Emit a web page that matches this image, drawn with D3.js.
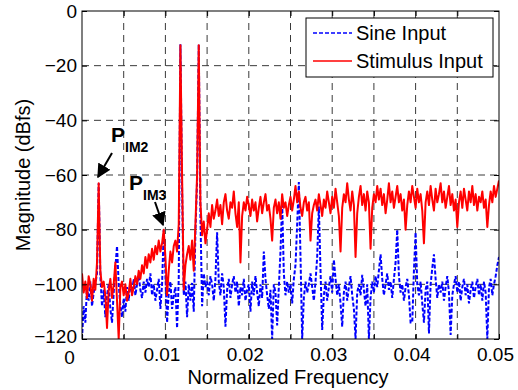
<!DOCTYPE html>
<html>
<head>
<meta charset="utf-8">
<script src="https://cdn.jsdelivr.net/npm/d3@7/dist/d3.min.js"></script>
<style>
  html, body { margin: 0; padding: 0; background: #fff; }
  svg { display: block; font-family: "Liberation Sans", Arial, sans-serif; }
</style>
</head>
<body>
<svg id="chart" width="518" height="390"></svg>
<script>
// frequency grid: bin spacing of the spectrum
const FREQ_STEP = 0.0002;
const xTicks = [0, 0.01, 0.02, 0.03, 0.04, 0.05];
const xGrid = [0.005, 0.01, 0.015, 0.02, 0.025, 0.03, 0.035, 0.04, 0.045];
const yTicks = [-120, -100, -80, -60, -40, -20, 0];

// Sine input spectrum (dBfs), one value per bin
const sineInput = [
  -120, -108, -114, -101, -106, -99, -108, -103, -100, -96,
  -63, -97, -108, -102, -112, -104, -100, -109, -114, -103,
  -94, -86, -100, -108, -112, -105, -110, -101, -106, -99,
  -103, -98, -104, -100, -97, -102, -105, -99, -103, -98,
  -101, -96, -104, -100, -106, -102, -98, -109, -100, -80,
  -96, -114, -103, -99, -109, -104, -101, -116, -98, -12.2,
  -65, -104, -99, -112, -100, -106, -99.5, -110, -81, -62,
  -12.2, -75, -108, -96, -101, -99, -104, -97, -100, -106,
  -98, -81, -99, -104, -96, -101, -115.5, -102, -98, -105,
  -100, -97, -103, -99, -108, -101, -104, -98, -106, -102,
  -100, -110, -99, -104, -97, -103, -108, -100, -105, -88,
  -98, -104, -109, -102, -120, -100, -103, -115, -101, -88,
  -70, -96, -104, -99, -103, -100, -107, -98, -93, -78,
  -62.6, -90, -120, -105, -99, -103, -100, -96, -101, -106,
  -99, -90, -71.5, -95, -116.7, -104, -99, -106, -101, -97,
  -103, -91, -98, -104, -100, -107, -115.5, -103, -99, -106,
  -101, -97, -104, -109, -120, -103, -100, -104, -96.5, -102,
  -108, -100, -120, -105, -99, -103, -97, -101, -95, -89,
  -98, -104, -100, -96, -102, -99, -105, -98, -92, -80,
  -97, -103, -100, -106, -101, -98, -104, -114, -114, -95,
  -81, -100, -104, -99, -107, -114, -102, -99, -118, -100,
  -94, -89, -98, -105, -100, -103, -99, -106, -101, -97,
  -103, -118.5, -104, -100, -97, -103, -99, -106, -101, -98,
  -104, -100, -107, -102, -99, -105, -101, -98, -104, -100,
  -106, -99, -103, -120, -101, -98, -104, -100, -97, -93,
  -90
];

// Stimulus input spectrum (dBfs), one value per bin
const stimulusInput = [
  -96, -103, -99, -105, -97, -100, -106, -98, -102, -92,
  -63, -95, -101, -99, -104, -116, -102, -98, -105, -100,
  -92, -106, -120, -101, -99, -104, -100, -106, -103, -98,
  -104, -101, -97, -100, -95, -98, -93, -96, -90, -94,
  -89, -92, -87, -91, -86, -89, -84, -88, -85, -80,
  -90, -104, -95, -88, -92, -86, -84, -88, -78, -12.5,
  -60, -102, -93, -89, -86, -91, -84, -95, -78, -60,
  -12.5, -70, -82, -77, -85, -80, -74, -79, -71, -76,
  -73, -69, -75, -71, -78, -70, -67, -73, -76, -70,
  -72, -66, -74, -79, -70, -92, -75, -70, -73, -68,
  -71, -75, -69, -73, -70, -77, -72, -68, -74, -70,
  -67, -73, -71, -76, -84, -72, -69, -74, -70, -76,
  -67, -72, -70, -75, -71, -68, -73, -69, -64, -70,
  -66, -72, -75, -70, -68, -73, -70, -84, -74, -71,
  -69, -73, -67, -71, -75, -69, -72, -66, -70, -74,
  -68, -72, -65, -70, -75, -88, -72, -67, -70, -63,
  -69, -73, -66, -71, -90, -74, -68, -64, -71, -67,
  -73, -66, -70, -87, -72, -67, -70, -64, -69, -65,
  -71, -67, -74, -69, -63, -70, -66, -72, -68, -64,
  -70, -67, -73, -69, -80, -71, -66, -70, -64, -68,
  -72, -65, -70, -67, -73, -85, -70, -66, -71, -64,
  -69, -73, -65, -70, -67, -63, -70, -66, -72, -68,
  -64, -71, -67, -73, -69, -79, -70, -66, -72, -65,
  -69, -73, -66, -70, -64, -71, -67, -73, -68, -70,
  -66, -72, -69, -79, -71, -66, -70, -64, -68, -65,
  -62
];

const seriesNames = ['Sine Input', 'Stimulus Input'];

(function () {
  'use strict';

  const svg = d3.select('#chart');
  const margin = { left: 82, top: 11, right: 19, bottom: 51 };
  const W = 518, H = 390;
  const innerW = W - margin.left - margin.right;
  const innerH = H - margin.top - margin.bottom;
  const FONT = '"Liberation Sans", Arial, sans-serif';

  const x = d3.scaleLinear().domain([0, 0.05]).range([0, innerW]);
  const y = d3.scaleLinear().domain([-120, 0]).range([innerH, 0]);

  const g = svg.append('g').attr('transform', `translate(${margin.left},${margin.top})`);

  // clip so the spectrum stays inside the axes box
  const defs = svg.append('defs');
  defs.append('clipPath').attr('id', 'clip')
    .append('rect').attr('width', innerW).attr('height', innerH);

  // ── Grid (MATLAB style dashed) ──
  g.append('g').selectAll('line').data(xGrid).join('line')
    .attr('x1', d => x(d)).attr('x2', d => x(d))
    .attr('y1', 0).attr('y2', innerH)
    .attr('stroke', '#3a3a3a').attr('stroke-width', 1)
    .attr('stroke-dasharray', '7,5');

  g.append('g').selectAll('line').data(yTicks.slice(1, -1)).join('line')
    .attr('x1', 0).attr('x2', innerW)
    .attr('y1', d => y(d)).attr('y2', d => y(d))
    .attr('stroke', '#3a3a3a').attr('stroke-width', 1)
    .attr('stroke-dasharray', '7,5');

  // ── Data lines ──
  const line = d3.line()
    .x((d, i) => x(i * FREQ_STEP))
    .y(d => y(d));

  const plot = g.append('g').attr('clip-path', 'url(#clip)');

  plot.append('path').datum(sineInput)
    .attr('d', line)
    .attr('fill', 'none')
    .attr('stroke', '#0000ff')
    .attr('stroke-width', 2)
    .attr('stroke-dasharray', '4,2');

  plot.append('path').datum(stimulusInput)
    .attr('d', line)
    .attr('fill', 'none')
    .attr('stroke', '#ff0000')
    .attr('stroke-width', 2)
    .attr('stroke-linejoin', 'round');

  // ── Axes (ticks inside, on all four sides) ──
  const tickFont = ax => ax
    .call(a => a.select('.domain').remove())
    .call(a => a.selectAll('text').attr('font-size', 19).attr('fill', '#000')
      .attr('font-family', FONT));

  // x labels sit a little left of their ticks, the "0" further left and just below "-120"
  g.append('g').attr('transform', `translate(0,${innerH})`)
    .call(d3.axisBottom(x).tickValues(xTicks).tickFormat(d3.format('')).tickSize(-5).tickPadding(6))
    .call(tickFont)
    .call(a => a.selectAll('text')
      .attr('dy', d => d === 0 ? '1.0em' : '0.85em')
      .attr('dx', d => d === 0 ? -13 : -4));

  g.append('g').attr('transform', `translate(0,${innerH})`)
    .call(d3.axisBottom(x).tickValues(xGrid).tickFormat('').tickSize(-5))
    .call(a => a.select('.domain').remove());

  g.append('g')
    .call(d3.axisTop(x).tickValues(xGrid).tickFormat('').tickSize(-5))
    .call(a => a.select('.domain').remove());

  g.append('g')
    .call(d3.axisLeft(y).tickValues(yTicks).tickFormat(d3.format('d')).tickSize(-5).tickPadding(5))
    .call(tickFont)
    .call(a => a.selectAll('text').filter(d => d === -120).attr('dy', '0.2em'));

  g.append('g').attr('transform', `translate(${innerW},0)`)
    .call(d3.axisRight(y).tickValues(yTicks).tickFormat('').tickSize(-5))
    .call(a => a.select('.domain').remove());

  g.selectAll('.tick line').attr('stroke', '#000');

  g.append('rect')
    .attr('width', innerW).attr('height', innerH)
    .attr('fill', 'none').attr('stroke', '#000').attr('stroke-width', 1);

  // ── Axis titles ──
  svg.append('text')
    .attr('x', 288).attr('y', 384)
    .attr('text-anchor', 'middle').attr('font-size', 20)
    .text('Normalized Frequency');

  svg.append('text')
    .attr('transform', `translate(30,${margin.top + innerH / 2}) rotate(-90)`)
    .attr('text-anchor', 'middle').attr('font-size', 20)
    .text('Magnitude (dBfs)');

  // ── Annotations ──
  defs.append('marker').attr('id', 'arrow')
    .attr('viewBox', '0 0 10 10').attr('refX', 9).attr('refY', 5)
    .attr('markerWidth', 7).attr('markerHeight', 7).attr('orient', 'auto')
    .append('path').attr('d', 'M0,0 L10,5 L0,10 z').attr('fill', '#000');

  const annot = svg.append('g').attr('font-weight', 'bold').attr('fill', '#000');

  const addLabel = (px, py, sub) => {
    const t = annot.append('text').attr('x', px).attr('y', py).attr('font-size', 21).text('P');
    t.append('tspan').attr('font-size', 14).attr('dy', 10).text(sub);
  };
  addLabel(111, 142, 'IM2');
  addLabel(129, 190, 'IM3');

  annot.append('line')
    .attr('x1', 112).attr('y1', 153).attr('x2', 98).attr('y2', 177)
    .attr('stroke', '#000').attr('stroke-width', 2).attr('marker-end', 'url(#arrow)');
  annot.append('line')
    .attr('x1', 155).attr('y1', 202).attr('x2', 163).attr('y2', 225)
    .attr('stroke', '#000').attr('stroke-width', 2).attr('marker-end', 'url(#arrow)');

  // ── Legend ──
  const leg = svg.append('g').attr('transform', 'translate(306,18)');
  leg.append('rect').attr('width', 187).attr('height', 59)
    .attr('fill', '#fff').attr('stroke', '#000').attr('stroke-width', 1);

  const legendStyles = [
    { color: '#0000ff', dash: '4,2' },
    { color: '#ff0000', dash: null }
  ];
  seriesNames.forEach((name, i) => {
    const ly = 15 + i * 28;
    leg.append('line')
      .attr('x1', 7).attr('x2', 46).attr('y1', ly).attr('y2', ly)
      .attr('stroke', legendStyles[i].color).attr('stroke-width', 1.5)
      .attr('stroke-dasharray', legendStyles[i].dash);
    leg.append('text').attr('x', 50).attr('y', ly + 7)
      .attr('font-size', 20).text(name);
  });
})();
</script>
</body>
</html>
